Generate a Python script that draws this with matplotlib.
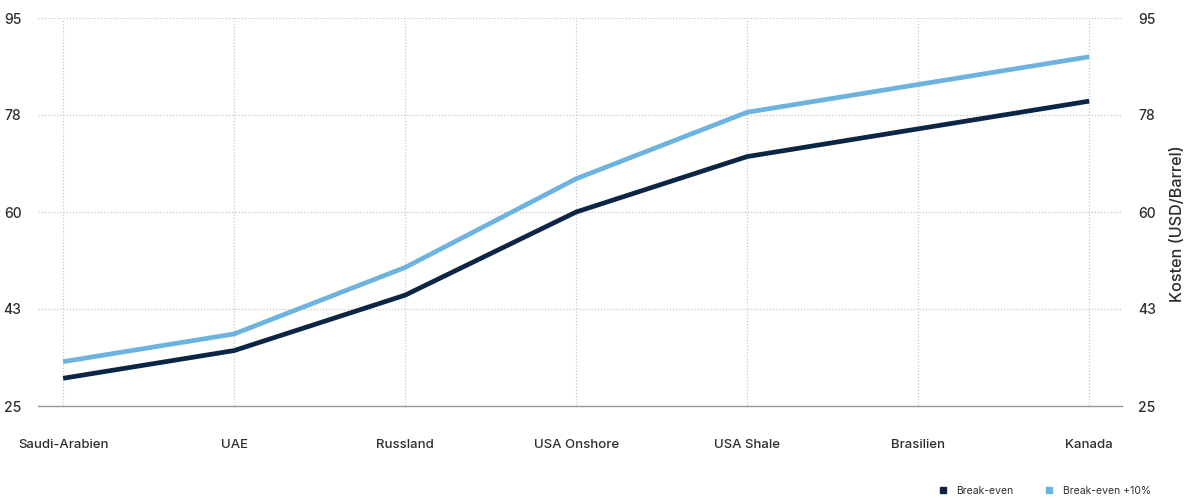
import matplotlib
matplotlib.use('Agg')
import matplotlib.pyplot as plt
from matplotlib.lines import Line2D

plt.rcParams['font.family'] = ['Inter', 'DejaVu Sans']

countries = ['Saudi-Arabien', 'UAE', 'Russland', 'USA Onshore', 'USA Shale', 'Brasilien', 'Kanada']
break_even = [30, 35, 45, 60, 70, 75, 80]
break_even_10 = [33, 38, 50, 66, 78, 83, 88]
y_ticks = [25, 42.5, 60, 77.5, 95]
y_labels = ['25', '43', '60', '78', '95']

dark = '#0b2545'
light = '#6db3e0'
txt = '#2e2e2e'

fig = plt.figure(figsize=(11.92, 5), dpi=100)
ax = fig.add_axes([0.032, 0.188, 0.909, 0.776])

x = range(len(countries))
ax.plot(x, break_even_10, color=light, lw=3.4, solid_capstyle='butt', zorder=3)
ax.plot(x, break_even, color=dark, lw=3.4, solid_capstyle='butt', zorder=4)

ax.set_xlim(-0.146, 6.19)
ax.set_ylim(25, 95)
ax.set_xticks(list(x))
ax.set_xticklabels(countries, fontsize=9.5, color=txt, fontweight='medium')
ax.set_yticks(y_ticks)
ax.set_yticklabels(y_labels, fontsize=10, color=txt, fontweight='medium')

ax.grid(True, linestyle=(0, (1, 1.5)), color='#c8c8c8', lw=0.9)
for s in ['top', 'left', 'right']:
    ax.spines[s].set_visible(False)
ax.spines['bottom'].set_color('#9a9a9a')
ax.spines['bottom'].set_linewidth(1)

ax.tick_params(axis='x', length=0, pad=24)
ax.tick_params(axis='y', length=0, labelleft=True, labelright=True, pad=12)
ax.yaxis.set_label_position('right')
ax.set_ylabel('Kosten (USD/Barrel)', fontsize=11.7, color=txt, fontweight='medium', labelpad=10)
ax.yaxis.label.set_y(0.47)

handles = [Line2D([], [], marker='s', ls='none', color=dark, markersize=5),
           Line2D([], [], marker='s', ls='none', color=light, markersize=5)]
fig.legend(handles, ['Break-even', 'Break-even +10%'], loc='lower right',
           bbox_to_anchor=(0.9735, -0.01), ncol=2, frameon=False, fontsize=7.5,
           handletextpad=0.3, columnspacing=2.43, labelcolor=txt)

fig.savefig('out.png', dpi=100, facecolor='white')
